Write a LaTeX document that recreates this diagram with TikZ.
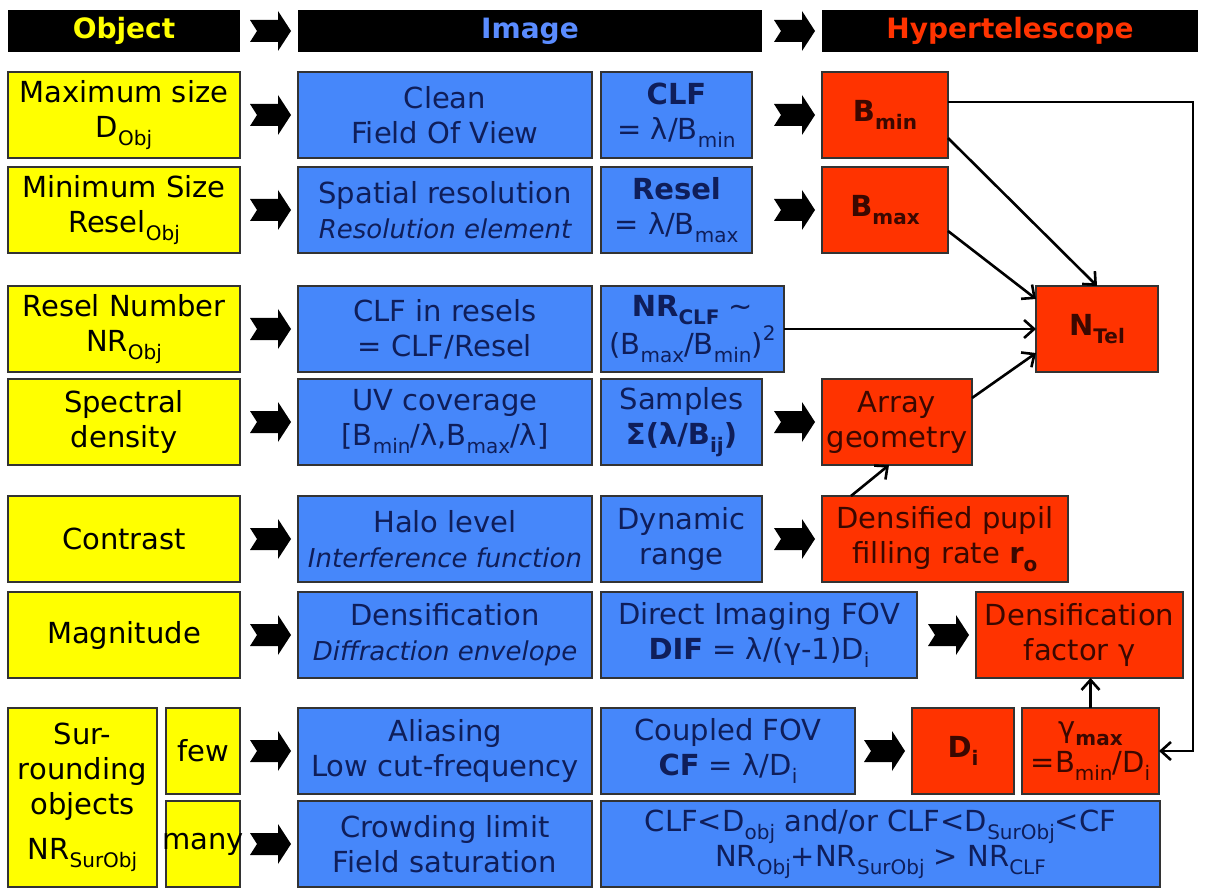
\documentclass[tikz,border=0pt]{standalone}
\usepackage{fontspec}
\setmainfont{DejaVu Sans}
\usetikzlibrary{calc,arrows.meta}
\definecolor{objyellow}{HTML}{FFFF00}
\definecolor{imgblue}{HTML}{4687FA}
\definecolor{headblue}{HTML}{5A8CFF}
\definecolor{telred}{HTML}{FF3300}
\definecolor{navytext}{HTML}{0F1E5A}
\definecolor{redtext}{HTML}{3A0800}
\newcommand\lowsub[1]{\raisebox{-0.28em}{\fontsize{20}{20}\selectfont #1}}
\newcommand\highsup[1]{\raisebox{0.45em}{\fontsize{20}{20}\selectfont #1}}
\newcommand\itline[1]{{\itshape\fontsize{26}{31}\selectfont #1}}
\newcommand\fatarrow[2]{\fill[black] ($(#1.east -| #2.west)+(-7,0)$) -- ++(-13,20) -- ++(0,-9) -- ++(-28,0) -- ++(7,-11) -- ++(-7,-11) -- ++(28,0) -- ++(0,-9) -- cycle;}

\begin{document}
\begin{tikzpicture}[x=1pt,y=1pt]
        \tikzstyle{every node}+=[inner sep=0pt, outer sep=0pt, align=center, font=\fontsize{29}{35}\selectfont]
        \tikzstyle{plainbox}=[draw=black!80, line width=1.2pt, minimum height=86pt]
        \tikzstyle{objbox}=[plainbox, fill=objyellow, text=black]
        \tikzstyle{imgbox}=[plainbox, fill=imgblue, text=navytext]
        \tikzstyle{telbox}=[plainbox, fill=telred, text=redtext]
        \tikzstyle{headbox}=[fill=black, minimum height=42pt, font=\fontsize{28}{30}\selectfont\bfseries]
        \tikzstyle{link}=[black, line width=2.6pt, -{Straight Barb[length=10pt,width=18pt]}]
        \useasboundingbox (0,0) rectangle (1210,-893);
        \node[headbox, text=objyellow, minimum width=232pt] (hObj) at (124,-31) {Object};
        \node[headbox, text=headblue, minimum width=464pt] (hImg) at (530,-31) {Image};
        \node[headbox, text=telred, minimum width=376pt] (hHyp) at (1010,-31) {Hypertelescope};
        \node[objbox, minimum width=232pt] (oA) at (124,-115) {Maximum size\\D\lowsub{Obj}};
        \node[objbox, minimum width=232pt] (oB) at (124,-210) {Minimum Size\\Resel\lowsub{Obj}};
        \node[objbox, minimum width=232pt] (oC) at (124,-329) {Resel Number\\NR\lowsub{Obj}};
        \node[objbox, minimum width=232pt] (oD) at (124,-422) {Spectral\\density};
        \node[objbox, minimum width=232pt] (oE) at (124,-539) {Contrast};
        \node[objbox, minimum width=232pt] (oF) at (124,-635) {Magnitude};
        \node[objbox, minimum width=149pt, minimum height=179pt] (oG) at (82.5,-797.5) {Sur-\\rounding\\objects\\[10pt]NR\lowsub{SurObj}};
        \node[objbox, minimum width=74pt] (few) at (203,-751) {few};
        \node[objbox, minimum width=74pt] (many) at (203,-844) {\makebox[0pt]{many}};
        \node[imgbox, minimum width=294pt] (iA) at (445,-115) {Clean\\Field Of View};
        \node[imgbox, minimum width=294pt] (iB) at (445,-210) {Spatial resolution\\\itline{Resolution element}};
        \node[imgbox, minimum width=294pt] (iC) at (445,-329) {CLF in resels\\= CLF/Resel};
        \node[imgbox, minimum width=294pt] (iD) at (445,-422) {UV coverage\\{[}B\lowsub{min}/λ,B\lowsub{max}/λ{]}};
        \node[imgbox, minimum width=294pt] (iE) at (445,-539) {Halo level\\\itline{Interference function}};
        \node[imgbox, minimum width=294pt] (iF) at (445,-635) {Densification\\\itline{Diffraction envelope}};
        \node[imgbox, minimum width=294pt] (iG) at (445,-751) {Aliasing\\Low cut-frequency};
        \node[imgbox, minimum width=294pt] (iH) at (445,-844) {Crowding limit\\Field saturation};
        \node[imgbox, minimum width=151pt] (cA) at (676.5,-115) {\textbf{CLF}\\= λ/B\lowsub{min}};
        \node[imgbox, minimum width=151pt] (cB) at (676.5,-210) {\textbf{Resel}\\= λ/B\lowsub{max}};
        \node[imgbox, minimum width=183pt] (cC) at (692.5,-329) {\textbf{NR\lowsub{CLF}} \textasciitilde\\(B\lowsub{max}/B\lowsub{min})\highsup{2}};
        \node[imgbox, minimum width=161pt] (cD) at (681.5,-422) {Samples\\\textbf{Σ(λ/B\lowsub{ij})}};
        \node[imgbox, minimum width=161pt] (cE) at (681.5,-539) {Dynamic\\range};
        \node[imgbox, minimum width=316pt] (cF) at (759,-635) {Direct Imaging FOV\\\textbf{DIF} = λ/(γ-1)D\lowsub{i}};
        \node[imgbox, minimum width=254pt] (cG) at (728,-751) {Coupled FOV\\\textbf{CF} = λ/D\lowsub{i}};
        \node[imgbox, minimum width=559pt] (cH) at (880.5,-844) {CLF<D\lowsub{obj} and/or CLF<D\lowsub{SurObj}<CF\\NR\lowsub{Obj}+NR\lowsub{SurObj} > NR\lowsub{CLF}};
        \node[telbox, minimum width=126pt] (Bmin) at (885,-115) {\textbf{B\lowsub{min}}};
        \node[telbox, minimum width=126pt] (Bmax) at (885,-210) {\textbf{B\lowsub{max}}};
        \node[telbox, minimum width=122pt] (NTel) at (1097,-329) {\textbf{N\lowsub{Tel}}};
        \node[telbox, minimum width=150pt] (Array) at (897,-422) {Array\\geometry};
        \node[telbox, minimum width=246pt] (Dpupil) at (945,-539) {Densified pupil\\filling rate \textbf{r\lowsub{o}}};
        \node[telbox, minimum width=207pt] (DensF) at (1079.5,-635) {Densification\\factor γ};
        \node[telbox, minimum width=102pt] (Di) at (963,-751) {\textbf{D\lowsub{i}}};
        \node[telbox, minimum width=137pt] (gmax) at (1090.5,-751) {γ\textbf{\lowsub{max}}\\=B\lowsub{min}/D\lowsub{i}};
        \fatarrow{hObj}{hImg}
        \fatarrow{hImg}{hHyp}
        \fatarrow{oA}{iA}
        \fatarrow{oB}{iB}
        \fatarrow{oC}{iC}
        \fatarrow{oD}{iD}
        \fatarrow{oE}{iE}
        \fatarrow{oF}{iF}
        \fatarrow{few}{iG}
        \fatarrow{many}{iH}
        \fatarrow{cA}{Bmin}
        \fatarrow{cB}{Bmax}
        \fatarrow{cD}{Array}
        \fatarrow{cE}{Dpupil}
        \fatarrow{cF}{DensF}
        \fatarrow{cG}{Di}
        \draw [link] ([yshift=13pt]Bmin.east) -| ([xshift=34pt]gmax.east) -- (gmax.east);
        \draw [link] ([yshift=-23pt]Bmin.east) -- (NTel.north);
        \draw [link] ([yshift=-21pt]Bmax.east) -- ([yshift=-13pt]NTel.north west);
        \draw [link] (cC) -- (NTel);
        \draw [link] ([yshift=24pt]Array.east) -- ([yshift=-24pt]NTel.west);
        \draw [link] ([xshift=29pt]Dpupil.north west) -- ([xshift=-8pt]Array.south);
        \draw [link] (gmax.north) -- (gmax.north |- DensF.south);
\end{tikzpicture}
\end{document}
